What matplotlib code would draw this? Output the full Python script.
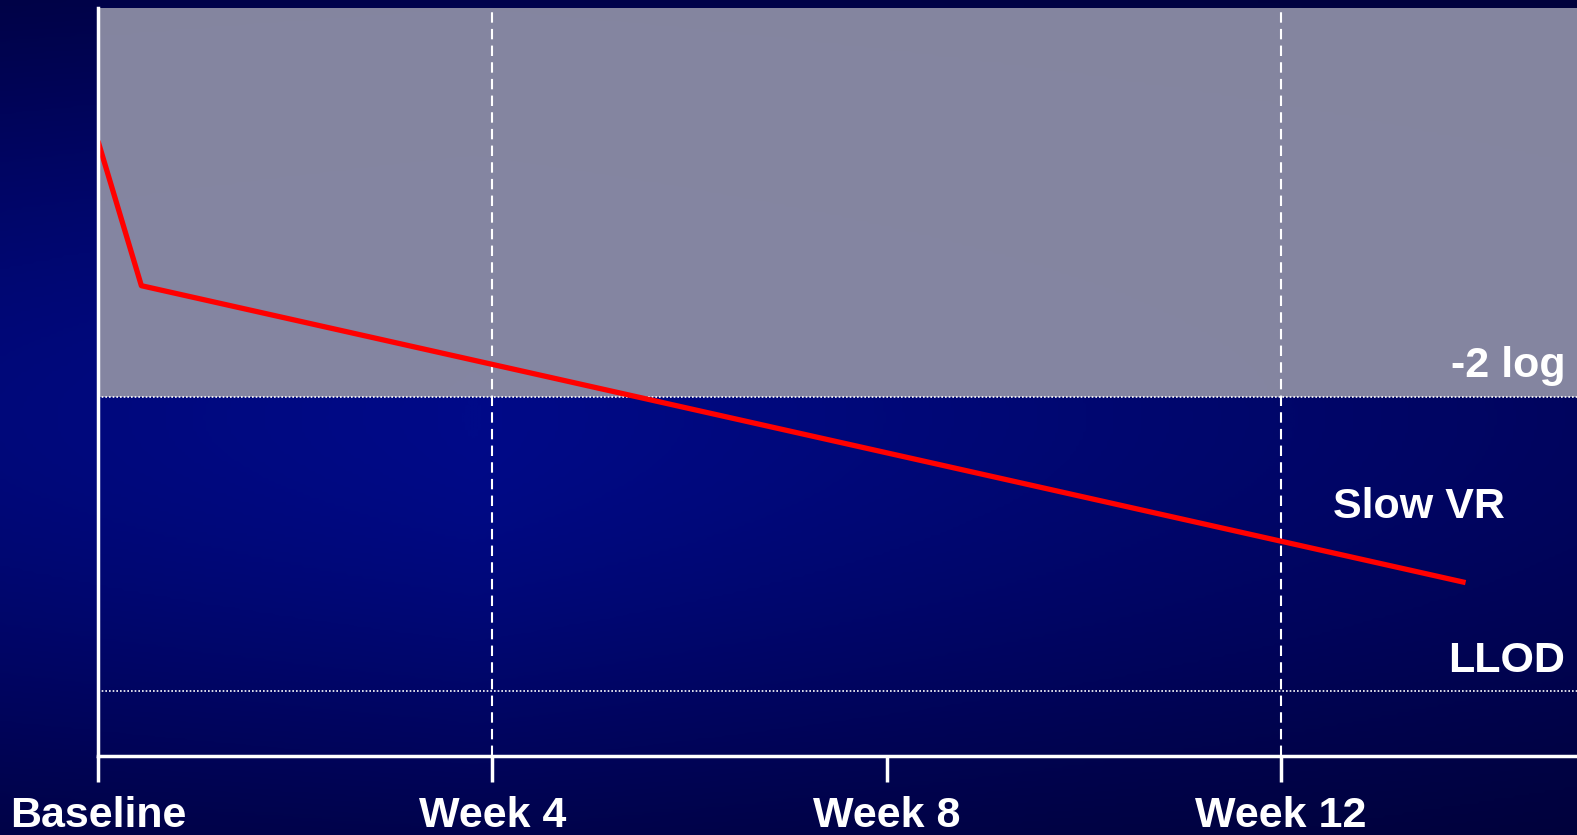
import matplotlib.pyplot as plt
import numpy as np
from matplotlib.colors import LinearSegmentedColormap

plt.rcParams['font.family'] = ['Liberation Sans', 'DejaVu Sans']

# Viral load course (log10 copies/mL) over weeks of treatment
weeks = [0.0, 0.44, 13.87]
log_vl = [6.0, 4.87, 2.55]

tick_weeks = [0, 4, 8, 12]
tick_labels = ['Baseline', 'Week 4', 'Week 8', 'Week 12']
dashed_weeks = [4, 12]

two_log_drop = 4.0     # baseline minus 2 log
llod = 1.7             # lower limit of detection, log10(50)

fig = plt.figure(figsize=(15.77, 8.35), dpi=100)

# dark blue slide background, brightest left of centre
bg = fig.add_axes([0, 0, 1, 1])
yy, xx = np.mgrid[0:1:300j, 0:1:500j]
vert = np.exp(-((yy - 0.5) / 0.5) ** 2)
horiz = 1 - 0.45 * np.clip((xx - 0.3) / 0.7, 0, 1) - 0.15 * np.clip((0.3 - xx) / 0.3, 0, 1)
shade = np.clip(vert * horiz, 0, 1)
cmap = LinearSegmentedColormap.from_list('slide', ['#000028', '#00045a', '#000a88'])
bg.imshow(shade, cmap=cmap, aspect='auto', extent=[0, 1, 0, 1], origin='upper',
          interpolation='bilinear', vmin=0, vmax=1)
bg.set_axis_off()

W, H = 1577, 835
left, right, top, bottom = 98, 1577, 8, 756
ax = fig.add_axes([left / W, (H - bottom) / H, (right - left) / W, (bottom - top) / H])
ax.patch.set_alpha(0)

ax.set_xlim(0, 15)
ax.set_ylim(1.195, 7.04)

# region above the 2-log reduction
ax.axhspan(two_log_drop, 7.04, facecolor='#898aa3', alpha=0.97, zorder=1)
ax.axhline(two_log_drop, color='white', lw=1.2, ls=(0, (1, 1.2)), zorder=2)
ax.axhline(llod, color='white', lw=1.2, ls=(0, (1, 1.2)), zorder=2)
for w in dashed_weeks:
    ax.axvline(w, color='white', lw=1.5, ls=(0, (5, 3)), zorder=2)

ax.plot(weeks, log_vl, color='#ff0000', lw=3.8, zorder=4, solid_capstyle='butt')

txt = dict(color='white', fontsize=31, fontweight='bold')
ax.text(14.88, 4.16, '-2 log', ha='right', va='baseline', **txt)
ax.text(13.40, 3.055, 'Slow VR', ha='center', va='baseline', **txt)
ax.text(14.88, 1.85, 'LLOD', ha='right', va='baseline', **txt)

for s in ['top', 'right']:
    ax.spines[s].set_visible(False)
for s in ['left', 'bottom']:
    ax.spines[s].set_color('white')
    ax.spines[s].set_linewidth(2.5)
    ax.spines[s].set_zorder(5)

ax.set_yticks([])
ax.set_xticks(tick_weeks)
ax.set_xticklabels(tick_labels, color='white', fontsize=31, fontweight='bold')
ax.tick_params(axis='x', length=18.5, width=2.5, color='white', pad=10)

fig.savefig('out.png', dpi=100, facecolor='#000028')
